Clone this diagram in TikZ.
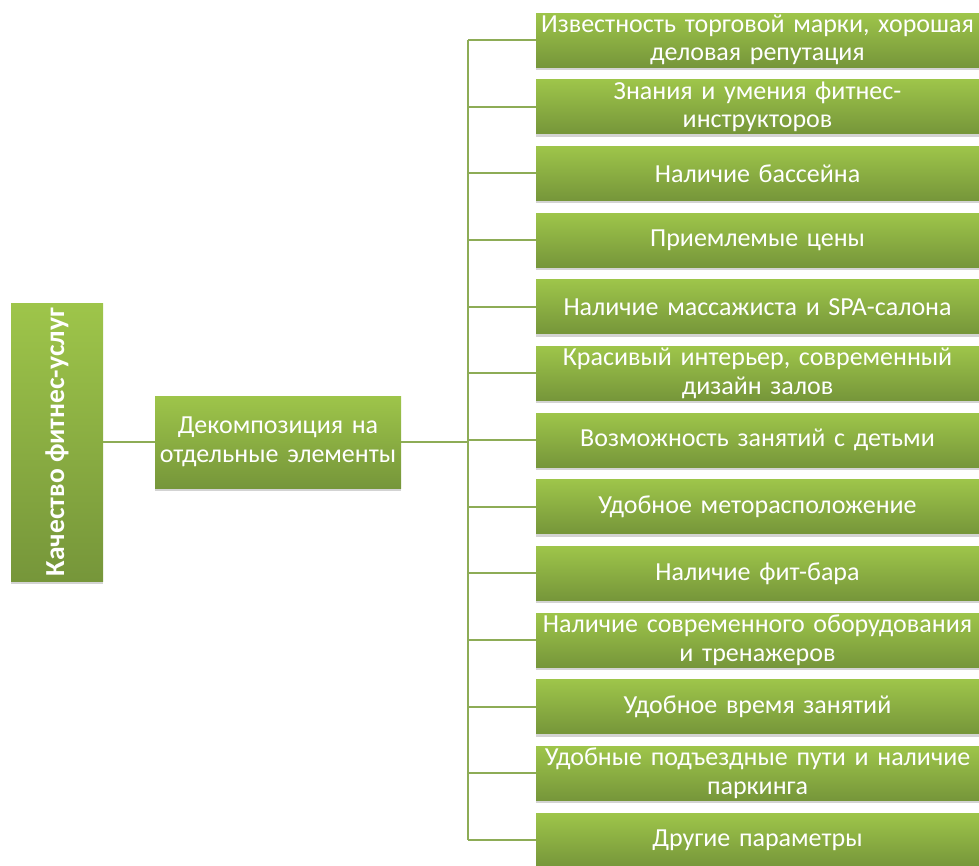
\documentclass[tikz,border=0pt]{standalone}
\usepackage{fontspec}
\setmainfont{Carlito}
\usetikzlibrary{shadows}
\definecolor{gtop}{RGB}{158,197,74}
\definecolor{gbot}{RGB}{118,150,58}
\definecolor{lineg}{RGB}{141,172,86}
\begin{document}
\begin{tikzpicture}[x=1pt,y=-1pt,
  box/.style={rectangle, draw=none, top color=gtop, bottom color=gbot, text=white,
    align=center, font=\fontsize{26}{28.5}\selectfont, inner sep=1pt,
    drop shadow={shadow xshift=0pt, shadow yshift=-3pt, opacity=0.35}},
  rbox/.style={box, minimum width=443pt, minimum height=54pt, text width=441pt},
  conn/.style={draw=lineg, line width=1.8pt}]
\useasboundingbox (0,0) rectangle (979,865);
\node[box, minimum width=92pt, minimum height=278pt] (l) at (57,442) {};
\node[rotate=90, text=white, font=\fontsize{27.5}{29}\selectfont\bfseries] (lt) at (l.center) {Качество фитнес-услуг};
\node[box, minimum width=246pt, minimum height=92pt, text width=244pt] (m) at (278,442) {Декомпозиция на\\отдельные элементы};
\coordinate (bus) at (468,442);
\foreach \t [count=\i] in {
  {Известность торговой марки, хорошая\\деловая репутация},
  {Знания и умения фитнес-\\инструкторов},
  {Наличие бассейна},
  {Приемлемые цены},
  {Наличие массажиста и SPA-салона},
  {Красивый интерьер, современный\\дизайн залов},
  {Возможность занятий с детьми},
  {Удобное меторасположение},
  {Наличие фит-бара},
  {Наличие современного оборудования\\и тренажеров},
  {Удобное время занятий},
  {Удобные подъездные пути и наличие\\паркинга},
  {Другие параметры}}
{
  \node[rbox] (r\i) at (757.5,{40+66.667*(\i-1)}) {\t};
}
\draw[conn] (l.east) -- (m.west);
\draw[conn] (m.east) -- (bus);
\draw[conn] (r1.west -| bus) -- (r13.west -| bus);
\foreach \i in {1,...,13}{
  \draw[conn] (r\i.west -| bus) -- (r\i.west);
}
\end{tikzpicture}
\end{document}
